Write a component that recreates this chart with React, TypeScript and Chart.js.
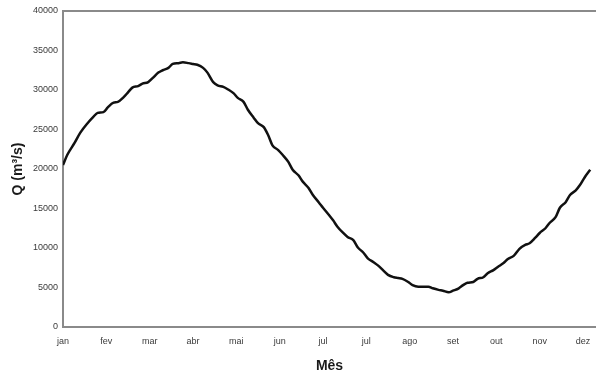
import React, { useEffect, useRef } from "react";
import { Chart, registerables } from "chart.js";

Chart.register(...registerables);

// Day of year (0 = 1 Jan) for each sampled discharge reading
const days = [
  0, 3, 8, 12, 17, 21, 24, 28, 31, 35, 38, 42, 45, 48, 52, 55, 59, 62, 66, 69,
  73, 76, 80, 83, 87, 90, 93, 97, 100, 104, 107, 111, 114, 118, 121, 125, 128,
  132, 135, 139, 142, 145, 149, 152, 156, 159, 163, 166, 170, 173, 177, 180,
  184, 187, 190, 194, 197, 201, 204, 208, 211, 215, 218, 222, 225, 229, 232,
  235, 239, 242, 246, 249, 253, 256, 260, 263, 267, 270, 274, 277, 280, 284,
  287, 291, 294, 298, 301, 305, 308, 312, 316, 320, 323, 327, 330, 334, 337,
  341, 344, 348, 351, 355, 358, 361, 365,
];

// Mean daily discharge Q (m³/s)
const flow = [
  20500, 21800, 23300, 24600, 25800, 26600, 27100, 27200, 27800, 28400, 28500,
  29100, 29700, 30300, 30500, 30800, 31000, 31500, 32200, 32500, 32800, 33300,
  33400, 33500, 33400, 33300, 33200, 32800, 32200, 31000, 30600, 30400, 30100,
  29600, 29000, 28500, 27500, 26500, 25800, 25300, 24300, 23000, 22400, 21800,
  20900, 19900, 19200, 18400, 17600, 16700, 15800, 15100, 14200, 13500, 12700,
  11900, 11400, 11000, 10100, 9400, 8700, 8200, 7800, 7100, 6600, 6300, 6200,
  6100, 5700, 5300, 5100, 5100, 5100, 4900, 4700, 4600, 4400, 4600, 4900, 5300,
  5600, 5700, 6100, 6300, 6800, 7200, 7600, 8100, 8600, 9000, 9900, 10400,
  10600, 11300, 11900, 12500, 13200, 13900, 15100, 15800, 16700, 17300, 18000,
  18900, 19900,
];

// Month labels, one every 30 days
const tickLabels = [
  "jan", "fev", "mar", "abr", "mai", "jun", "jul", "jul", "ago", "set", "out", "nov", "dez",
];

const yTicks = { min: 0, max: 40000, step: 5000 };

const frameTop = {
  id: "frameTop",
  afterDraw(chart: any) {
    const { ctx, chartArea } = chart;
    ctx.save();
    ctx.strokeStyle = "#8a8a8a";
    ctx.lineWidth = 2;
    ctx.beginPath();
    ctx.moveTo(chartArea.left, chartArea.top);
    ctx.lineTo(chartArea.right, chartArea.top);
    ctx.stroke();
    ctx.restore();
  },
};

const FONT = "Liberation Sans, Arial, sans-serif";

export default function App() {
  const ref = useRef<HTMLCanvasElement | null>(null);

  useEffect(() => {
    if (!ref.current) return;
    const points = days.map((d, i) => ({ x: d, y: flow[i] }));
    const chart = new Chart(ref.current, {
      type: "line",
      data: {
        datasets: [
          {
            data: points,
            borderColor: "#111",
            borderWidth: 2.5,
            pointRadius: 0,
            cubicInterpolationMode: "monotone",
            fill: false,
          },
        ],
      },
      options: {
        animation: false,
        responsive: false,
        layout: { padding: { top: 11, right: 0, left: 0, bottom: 0 } },
        plugins: { legend: { display: false }, tooltip: { enabled: false } },
        scales: {
          x: {
            type: "linear",
            min: 0,
            max: 369,
            afterFit: (s: any) => {
              s.height = 50;
              s.paddingLeft = 0;
              s.paddingRight = 0;
            },
            grid: { display: false, drawTicks: false },
            border: { display: true, color: "#8a8a8a", width: 2 },
            ticks: {
              stepSize: 30,
              includeBounds: false,
              autoSkip: false,
              maxRotation: 0,
              padding: 9,
              color: "#3a3a3a",
              font: { family: FONT, size: 9 },
              callback: (v: any) => {
                const i = Math.round(Number(v) / 30);
                return Number(v) % 30 === 0 && tickLabels[i] ? tickLabels[i] : "";
              },
            },
            title: {
              display: true,
              text: "Mês",
              color: "#1a1a1a",
              padding: { top: 0, bottom: 2 },
              font: { family: FONT, size: 14, weight: "bold" },
            },
          },
          y: {
            min: yTicks.min,
            max: yTicks.max,
            afterFit: (s: any) => {
              s.width = 63;
              s.paddingTop = 0;
              s.paddingBottom = 0;
            },
            grid: { display: false, drawTicks: false },
            border: { display: true, color: "#8a8a8a", width: 2 },
            ticks: {
              stepSize: yTicks.step,
              padding: 5,
              color: "#3a3a3a",
              font: { family: FONT, size: 9 },
              callback: (v: any) => String(v),
            },
            title: {
              display: true,
              text: "Q (m³/s)",
              color: "#1a1a1a",
              padding: { top: 10, bottom: 0 },
              font: { family: FONT, size: 14, weight: "bold" },
            },
          },
        },
      },
      plugins: [frameTop],
    });
    return () => chart.destroy();
  }, []);

  return (
    <div style={{ position: "fixed", left: 0, top: 0, width: 596, height: 377, background: "#fff" }}>
      <canvas ref={ref} width={596} height={377} />
    </div>
  );
}
